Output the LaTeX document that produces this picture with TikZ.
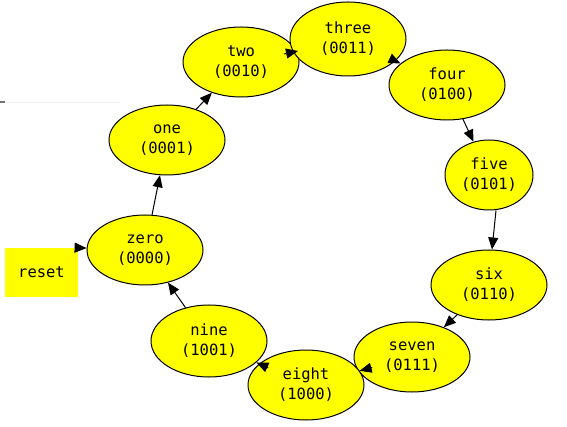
\documentclass[tikz,border=0pt]{standalone}
\usepackage{fontspec}
\newfontfamily\nodefont{DejaVu Sans Mono}
\usetikzlibrary{shapes.geometric,arrows.meta,calc}
\definecolor{stateyellow}{RGB}{255,255,0}
\tikzset{
  state/.style={ellipse,draw=black,line width=1pt,fill=stateyellow,
    minimum width=116pt,minimum height=70pt,inner sep=0pt,
    align=center,font=\nodefont\fontsize{15.5}{20}\selectfont},
  resetbox/.style={rectangle,fill=stateyellow,minimum width=73pt,minimum height=49pt,
    inner sep=0pt,font=\nodefont\fontsize{15.5}{20}\selectfont},
  arr/.style={-{Triangle[length=12pt,width=10pt]},line width=1pt,black}
}
\begin{document}
\begin{tikzpicture}[x=1pt,y=-1pt]
\useasboundingbox (0,0) rectangle (567,427);
% faint stray line at left edge
\draw[black!6,line width=0.8pt] (0,102) -- (120,102);
\draw[black!55,line width=1.5pt] (0,102) -- (5,102);

\node[state] (zero)  at (145,250) {zero\\(0000)};
\node[state] (one)   at (167,140) {one\\(0001)};
\node[state] (two)   at (241,62)  {two\\(0010)};
\node[state,minimum height=74pt] (three) at (348,39) {three\\(0011)};
\node[state] (four)  at (447,85)  {four\\(0100)};
\node[state,minimum width=88pt] (five) at (489,175) {five\\(0101)};
\node[state] (six)   at (489,285) {six\\(0110)};
\node[state] (seven) at (412,357) {seven\\(0111)};
\node[state] (eight) at (306,385) {eight\\(1000)};
\node[state,minimum height=72pt] (nine) at (209,341) {nine\\(1001)};
\node[resetbox] (reset) at (41.5,272.5) {reset};

\draw[arr] (reset.north east) -- (zero);
\draw[arr] (zero) -- (one);
\draw[arr] (one) -- (two);
\draw[arr] (three) -- (four);
\draw[arr] (four) -- (five);
\draw[arr] ([xshift=7pt]five.south) -- ([xshift=3pt]six.north);
\draw[arr] (six) -- (seven);
\draw[arr] (nine) -- (zero);

% overlapping neighbours: arrowheads only
\coordinate (t23) at (298,51);
\coordinate (s23) at (284,54);
\draw[arr] (s23) -- (t23);
\path (seven.center) -- (eight) coordinate[pos=1] (t78);
\coordinate (s78) at ($(t78)!13pt!(seven.center)$);
\draw[arr] (s78) -- (t78);
\path (eight.center) -- (nine) coordinate[pos=1] (t89);
\coordinate (s89) at ($(t89)!13pt!(eight.center)$);
\draw[arr] (s89) -- (t89);
\end{tikzpicture}
\end{document}
